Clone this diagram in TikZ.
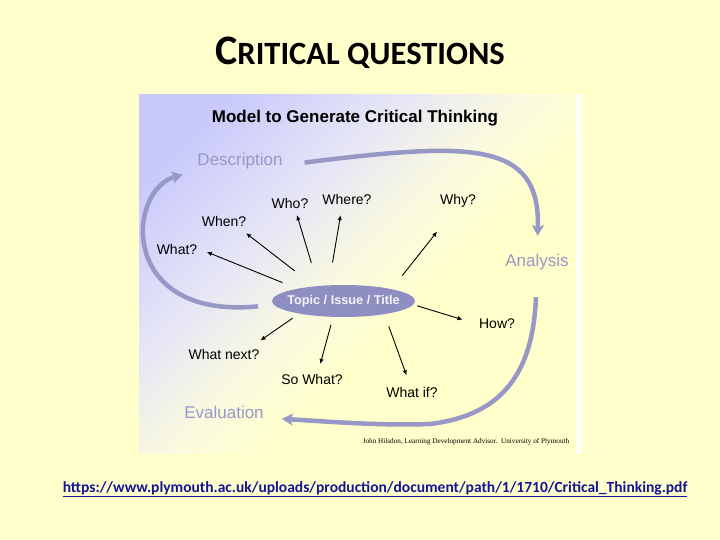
\documentclass[tikz,border=0pt]{standalone}
\usepackage{fontspec}
\setmainfont{Liberation Sans}
\newfontfamily\slidefont{Carlito}
\newfontfamily\creditfont{Liberation Serif}
\usetikzlibrary{shapes.geometric, arrows.meta}

\definecolor{pagebg}{RGB}{255,255,204}
\definecolor{lavtop}{RGB}{200,200,252}
\definecolor{lavmid}{RGB}{230,230,246}
\definecolor{yelmid}{RGB}{250,250,224}
\definecolor{stagecol}{RGB}{152,152,198}
\definecolor{topiccol}{RGB}{142,142,194}
\definecolor{linkcol}{RGB}{20,20,150}

\pgfdeclarehorizontalshading{lavfade}{100bp}{color(0bp)=(lavtop); color(22bp)=(lavtop); color(38bp)=(lavmid); color(49bp)=(yelmid); color(58bp)=(pagebg); color(100bp)=(pagebg)}

\tikzstyle{stage} = [
    text=stagecol,
    font=\fontsize{17}{20}\selectfont,
    inner sep=2pt
]
\tikzstyle{question} = [
    font=\fontsize{14}{16}\selectfont,
    inner sep=2pt
]
\tikzstyle{topic} = [
    ellipse,
    fill=topiccol,
    text=white!90!topiccol,
    minimum width=143pt,
    minimum height=32pt,
    inner sep=0pt,
    font=\bfseries\fontsize{12.7}{14}\selectfont
]
\tikzstyle{bigarrow} = [line width=4.5pt, draw=stagecol, -{Stealth[length=11pt,width=12pt,inset=3pt]}]
\tikzstyle{qarrow} = [line width=0.9pt, -{Latex[length=5pt,width=4.5pt]}]

\begin{document}
\begin{tikzpicture}[x=1pt, y=-1pt]

\fill[pagebg] (0,0) rectangle (720,540);
\useasboundingbox (0,0) rectangle (720,540);

% slide heading
\node (heading) at (360,53)
{\slidefont\bfseries\fontsize{42}{46}\selectfont C\fontsize{32.5}{36}\selectfont RITICAL QUESTIONS};

% the model picture
\shade[shading=lavfade, shading angle=-45] (139,95) rectangle (576,453);
\shade[left color=pagebg!30!white, right color=white] (576,95) rectangle (582,453);

\node (model) [font=\bfseries\fontsize{17}{20}\selectfont] at (355,118)
{Model to Generate Critical Thinking};

\node (desc) [stage] at (240,161) {Description};
\node (analysis) [stage] at (537,262) {Analysis};
\node (eval) [stage] at (224,412) {Evaluation};

\node (topic) [topic] at (343.5,301) {\makebox[0pt]{Topic / Issue / Title}};

\node (what) [question] at (177,249) {What?};
\node (when) [question] at (224,221) {When?};
\node (who) [question] at (290,203) {Who?};
\node (where) [question] at (347,199) {Where?};
\node (why) [question] at (458,201) {Why?};
\node (how) [question] at (497,324) {How?};
\node (whatnext) [question] at (224,354) {What next?};
\node (sowhat) [question] at (312,379) {So What?};
\node (whatif) [question] at (412,392) {What if?};

\draw [qarrow, shorten <=16pt, shorten >=8pt] (topic.165) -- (what.east);
\draw [qarrow, shorten <=25pt, shorten >=8pt] (topic.153) -- (when.-25);
\draw [qarrow, shorten <=24pt, shorten >=5pt] (topic.149) -- (who.-53);
\draw [qarrow, shorten <=23pt, shorten >=9pt] (topic.133) -- (where.-124);
\draw [qarrow, shorten <=17pt, shorten >=28pt] (topic.14) -- (why.-112);
\draw [qarrow, shorten <=4pt, shorten >=15pt] (topic.-3) -- (how.west);
\draw [qarrow, shorten <=8pt, shorten >=11pt] (topic.196) -- (whatnext.15);
\draw [qarrow, shorten <=8pt, shorten >=8pt] (topic.-123) -- (sowhat.50);
\draw [qarrow, shorten <=13pt, shorten >=10pt] (topic.-18) -- (whatif.106);

% the cycle
\draw [bigarrow, shorten <=20pt, shorten >=16pt] ([yshift=-4pt]desc.east)
    .. controls (470,142) and (541,140) .. (analysis.north);
\draw [bigarrow, shorten <=25pt, shorten >=16pt] (analysis.south)
    .. controls (533,370) and (505,415) .. (430,424)
    .. controls (380,426) and (320,421) .. ([yshift=-6pt]eval.east);
\draw [bigarrow, shorten <=14pt, shorten >=13pt] ([yshift=-4pt]topic.west)
    .. controls (118,320) and (126,190) .. (desc.south west);

\node (credit) [font=\creditfont\fontsize{7.2}{8}\selectfont] at (466,442)
{John Hilsdon, Learning Development Advisor.\ \ University of Plymouth};

% source link
\node (source) [text=linkcol, font=\slidefont\bfseries\fontsize{15.5}{18}\selectfont] at (375,489)
{\underline{https://www.plymouth.ac.uk/uploads/production/document/path/1/1710/Critical\_Thinking.pdf}};

\end{tikzpicture}
\end{document}
